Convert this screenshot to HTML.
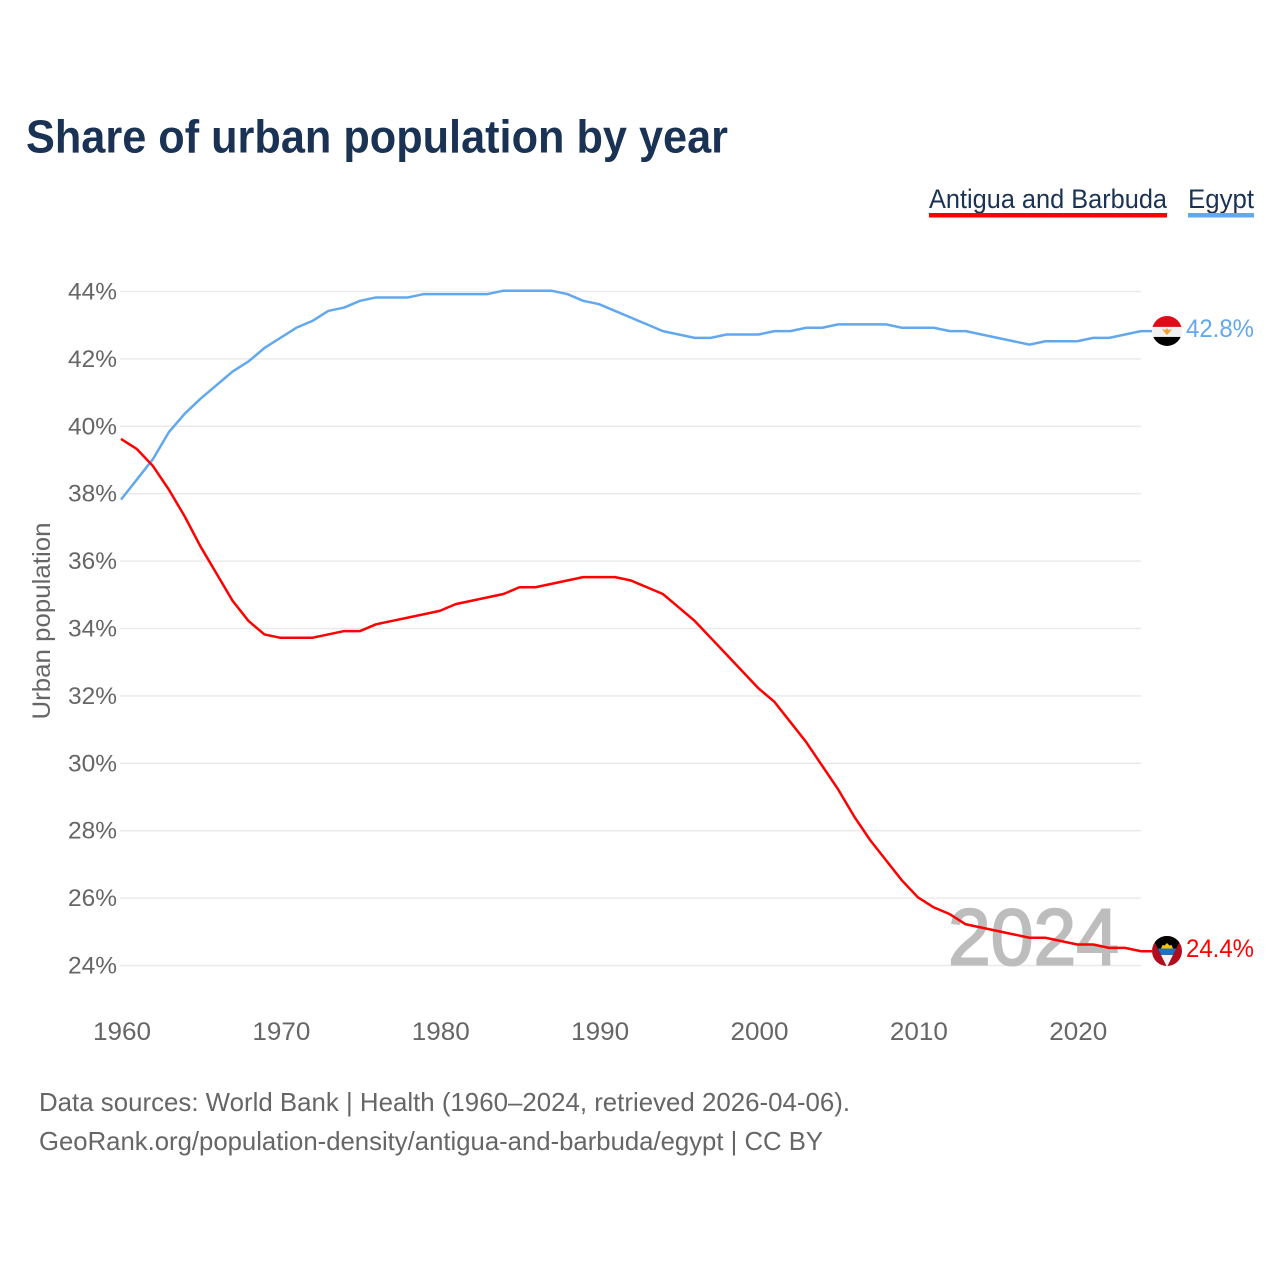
<!DOCTYPE html>
<html lang="en">
<head>
<meta charset="utf-8">
<title>Share of urban population by year</title>
<style>
  html, body { margin: 0; padding: 0; background: #fff; }
  svg { display: block; font-family: "Liberation Sans", sans-serif; }
  .legend-hit { cursor: pointer; }
</style>
</head>
<body>
<svg id="chart" xmlns="http://www.w3.org/2000/svg" width="1280" height="1280" viewBox="0 0 1280 1280">
  <defs>
    <clipPath id="flag-clip"><circle cx="0" cy="0" r="15"></circle></clipPath>
  </defs>
  <rect x="0" y="0" width="1280" height="1280" fill="#ffffff"></rect>
  <text x="26" y="152.5" font-size="46" font-weight="700" fill="#1a3355" textLength="702" lengthAdjust="spacingAndGlyphs">Share of urban population by year</text>

  <g class="legend-hit">
    <text x="929" y="208" font-size="27" fill="#1a3355" textLength="238" lengthAdjust="spacingAndGlyphs">Antigua and Barbuda</text>
    <rect x="929" y="213" width="238" height="4.5" fill="#ff0000"></rect>
  </g>
  <g class="legend-hit">
    <text x="1188" y="208" font-size="27" fill="#1a3355" textLength="66" lengthAdjust="spacingAndGlyphs">Egypt</text>
    <rect x="1188" y="213" width="66" height="4.5" fill="#62a8ee"></rect>
  </g>

  <g id="grid"></g>
  <g id="y-ticks"></g>
  <g id="x-ticks"></g>
  <text transform="translate(50,621) rotate(-90)" text-anchor="middle" font-size="25" fill="#666666" textLength="197" lengthAdjust="spacingAndGlyphs">Urban population</text>

  <text x="948" y="964.5" font-size="80" font-weight="400" fill="#bdbdbd" stroke="#bdbdbd" stroke-width="2" textLength="171" lengthAdjust="spacingAndGlyphs">2024</text>

  <g id="series" transform="translate(0,-0.8)"></g>
  <g id="end-markers"></g>

  <text x="39" y="1111" font-size="26" fill="#666666" textLength="811" lengthAdjust="spacingAndGlyphs">Data sources: World Bank | Health (1960–2024, retrieved 2026-04-06).</text>
  <text x="39" y="1150" font-size="26" fill="#666666" textLength="784" lengthAdjust="spacingAndGlyphs">GeoRank.org/population-density/antigua-and-barbuda/egypt | CC BY</text>
</svg>
<script>
const years = [1960,1961,1962,1963,1964,1965,1966,1967,1968,1969,1970,1971,1972,1973,1974,1975,1976,1977,1978,1979,1980,1981,1982,1983,1984,1985,1986,1987,1988,1989,1990,1991,1992,1993,1994,1995,1996,1997,1998,1999,2000,2001,2002,2003,2004,2005,2006,2007,2008,2009,2010,2011,2012,2013,2014,2015,2016,2017,2018,2019,2020,2021,2022,2023,2024];
const egyptValues = [37.8,38.4,39.0,39.8,40.35,40.8,41.2,41.6,41.9,42.3,42.6,42.9,43.1,43.4,43.5,43.7,43.8,43.8,43.8,43.9,43.9,43.9,43.9,43.9,44.0,44.0,44.0,44.0,43.9,43.7,43.6,43.4,43.2,43.0,42.8,42.7,42.6,42.6,42.7,42.7,42.7,42.8,42.8,42.9,42.9,43.0,43.0,43.0,43.0,42.9,42.9,42.9,42.8,42.8,42.7,42.6,42.5,42.4,42.5,42.5,42.5,42.6,42.6,42.7,42.8];
const antiguaValues = [39.6,39.3,38.8,38.1,37.3,36.4,35.6,34.8,34.2,33.8,33.7,33.7,33.7,33.8,33.9,33.9,34.1,34.2,34.3,34.4,34.5,34.7,34.8,34.9,35.0,35.2,35.2,35.3,35.4,35.5,35.5,35.5,35.4,35.2,35.0,34.6,34.2,33.7,33.2,32.7,32.2,31.8,31.2,30.6,29.9,29.2,28.4,27.7,27.1,26.5,26.0,25.7,25.5,25.2,25.1,25.0,24.9,24.8,24.8,24.7,24.6,24.6,24.5,24.5,24.4];
const yTickValues = [24,26,28,30,32,34,36,38,40,42,44];
const xTickValues = [1960,1970,1980,1990,2000,2010,2020];

const NS = 'http://www.w3.org/2000/svg';
function xScale(year) { return 121 + (year - 1960) * (1141 - 121) / (2024 - 1960); }
function yScale(value) { return 291.5 + (44 - value) * (965.5 - 291.5) / (44 - 24); }
function make(tag, attrs, parent) {
  const el = document.createElementNS(NS, tag);
  for (const k in attrs) el.setAttribute(k, attrs[k]);
  parent.appendChild(el);
  return el;
}

const grid = document.getElementById('grid');
const yTicks = document.getElementById('y-ticks');
const xTicks = document.getElementById('x-ticks');
const seriesGroup = document.getElementById('series');
const markers = document.getElementById('end-markers');

yTickValues.forEach(function (v) {
  const line = make('line', { x1: 120, x2: 1141, y1: yScale(v), y2: yScale(v), stroke: '#e9e9e9', 'stroke-width': 1.4 }, grid);
  
  
  const label = make('text', { x: 117, y: yScale(v) + 8, 'text-anchor': 'end', 'font-size': 24, fill: '#666666', textLength: 49, lengthAdjust: 'spacingAndGlyphs' }, yTicks);
  
  
  label.textContent = v + '%';
});

xTickValues.forEach(function (y) {
  const label = make('text', { x: xScale(y) + 1, y: 1040, 'text-anchor': 'middle', 'font-size': 25, fill: '#666666', textLength: 58, lengthAdjust: 'spacingAndGlyphs' }, xTicks);
  
  
  label.textContent = y;
});

function pathFor(values) {
  const last = values[values.length - 1];
  const body = values.map(function (v, i) {
    return (i ? 'L' : 'M') + xScale(years[i]).toFixed(2) + ' ' + yScale(v).toFixed(2);
  }).join(' ');
  return body + ' L1152 ' + yScale(last).toFixed(2);
}

const egyptLine = make('path', { d: pathFor(egyptValues), fill: 'none', stroke: '#62a8ee', 'stroke-width': 2.5, 'stroke-linejoin': 'round' }, seriesGroup);



const antiguaLine = make('path', { d: pathFor(antiguaValues), fill: 'none', stroke: '#ff0000', 'stroke-width': 2.5, 'stroke-linejoin': 'round' }, seriesGroup);



/* Egypt end marker */
const egyptLast = egyptValues[egyptValues.length - 1];
const egyptFlag = make('g', { transform: 'translate(1167,' + (yScale(egyptLast) - 1) + ')', 'clip-path': 'url(#flag-clip)' }, markers);


make('rect', { x: -16, y: -16, width: 32, height: 12, fill: '#e30a17' }, egyptFlag);
make('rect', { x: -16, y: -4, width: 32, height: 10, fill: '#f1f1f1' }, egyptFlag);
make('rect', { x: -16, y: 6, width: 32, height: 10, fill: '#000000' }, egyptFlag);
make('path', { d: 'M-5 -2 L-1.5 -1 L0 -3 L1.5 -1 L5 -2 L2 2 L0 4 L-2 2 Z', fill: '#f0a030' }, egyptFlag);

const egyptValueLabel = make('text', { x: 1186, y: yScale(egyptLast) + 5, 'font-size': 25, fill: '#62a8ee', textLength: 68, lengthAdjust: 'spacingAndGlyphs' }, markers);


egyptValueLabel.textContent = egyptLast.toFixed(1) + '%';

/* Antigua and Barbuda end marker */
const antiguaLast = antiguaValues[antiguaValues.length - 1];
const antiguaFlag = make('g', { transform: 'translate(1167,' + (yScale(antiguaLast) - 1) + ')', 'clip-path': 'url(#flag-clip)' }, markers);


make('rect', { x: -16, y: -16, width: 32, height: 32, fill: '#b00d1e' }, antiguaFlag);
make('path', { d: 'M-16 -16 L16 -16 L0 16 Z', fill: '#000000' }, antiguaFlag);
make('path', { d: 'M-6 -2.5 L-4.5 -6 L-2.5 -5.5 L0 -8 L2.5 -5.5 L4.5 -6 L6 -2.5 Z', fill: '#f5c400' }, antiguaFlag);
make('path', { d: 'M-9.25 -2.5 L9.25 -2.5 L6 4 L-6 4 Z', fill: '#1f6fc4' }, antiguaFlag);
make('path', { d: 'M-6 4 L6 4 L0 16 Z', fill: '#f4f4f4' }, antiguaFlag);

const antiguaValueLabel = make('text', { x: 1186, y: yScale(antiguaLast) + 5, 'font-size': 25, fill: '#ff0000', textLength: 68, lengthAdjust: 'spacingAndGlyphs' }, markers);


antiguaValueLabel.textContent = antiguaLast.toFixed(1) + '%';
</script>
</body>
</html>
